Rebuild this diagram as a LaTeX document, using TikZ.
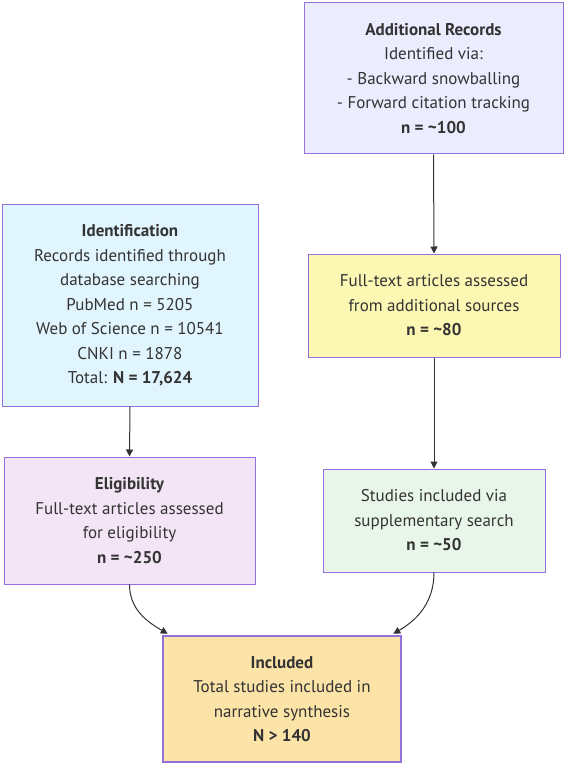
\documentclass[tikz,border=0pt]{standalone}
\usepackage{fontspec}
\setmainfont{PT Sans}
\usetikzlibrary{arrows.meta,calc}
\definecolor{strokec}{HTML}{9370DB}
\definecolor{txtc}{HTML}{333333}
\definecolor{arrc}{HTML}{333333}
\definecolor{addc}{HTML}{ECECFF}
\definecolor{identc}{HTML}{E1F5FE}
\definecolor{fullc}{HTML}{FDF7B4}
\definecolor{eligc}{HTML}{F3E5F5}
\definecolor{studc}{HTML}{E8F5E9}
\definecolor{inclc}{HTML}{FCE3A8}
\begin{document}
\begin{tikzpicture}[x=1pt,y=-1pt,
  box/.style={draw=strokec, line width=1pt, inner sep=0pt, align=center,
    font=\fontsize{17}{24.5}\selectfont, text=txtc},
  ar/.style={draw=arrc, line width=1pt, -{Triangle[length=7pt,width=7pt]}}]
\useasboundingbox (0,0) rectangle (566,767);
\node[box, fill=addc, minimum width=259pt, minimum height=151pt] (add) at (433.5,78.5)
  {\textbf{Additional Records}\\Identified via:\\- Backward snowballing\\- Forward citation tracking\\\textbf{n = \textasciitilde100}};
\node[box, fill=identc, minimum width=256pt, minimum height=201pt] (ident) at (130,305.5)
  {\textbf{Identification}\\Records identified through\\database searching\\PubMed n = 5205\\Web of Science n = 10541\\CNKI n = 1878\\Total: \textbf{N = 17,624}};
\node[box, fill=fullc, minimum width=252pt, minimum height=103pt] (full) at (434,305.5)
  {Full-text articles assessed\\from additional sources\\\textbf{n = \textasciitilde80}};
\node[box, fill=eligc, minimum width=251pt, minimum height=127pt] (elig) at (129.5,520.5)
  {\textbf{Eligibility}\\Full-text articles assessed\\for eligibility\\\textbf{n = \textasciitilde250}};
\node[box, fill=studc, minimum width=222pt, minimum height=103pt] (stud) at (434,520.5)
  {Studies included via\\supplementary search\\\textbf{n = \textasciitilde50}};
\node[box, fill=inclc, line width=2.5pt, minimum width=238pt, minimum height=126pt] (incl) at (282,699)
  {\textbf{Included}\\Total studies included in\\narrative synthesis\\\textbf{N > 140}};
\draw[ar] (add.south) -- (full.north);
\draw[ar] (full.south) -- (stud.north);
\draw[ar] (ident.south) -- (elig.north);
\draw[ar] (elig.south) to[out=-90,in=150] ($(incl.north west)+(6,-1)$);
\draw[ar] (stud.south) to[out=-90,in=30] ($(incl.north east)+(-9,-1)$);
\end{tikzpicture}
\end{document}
